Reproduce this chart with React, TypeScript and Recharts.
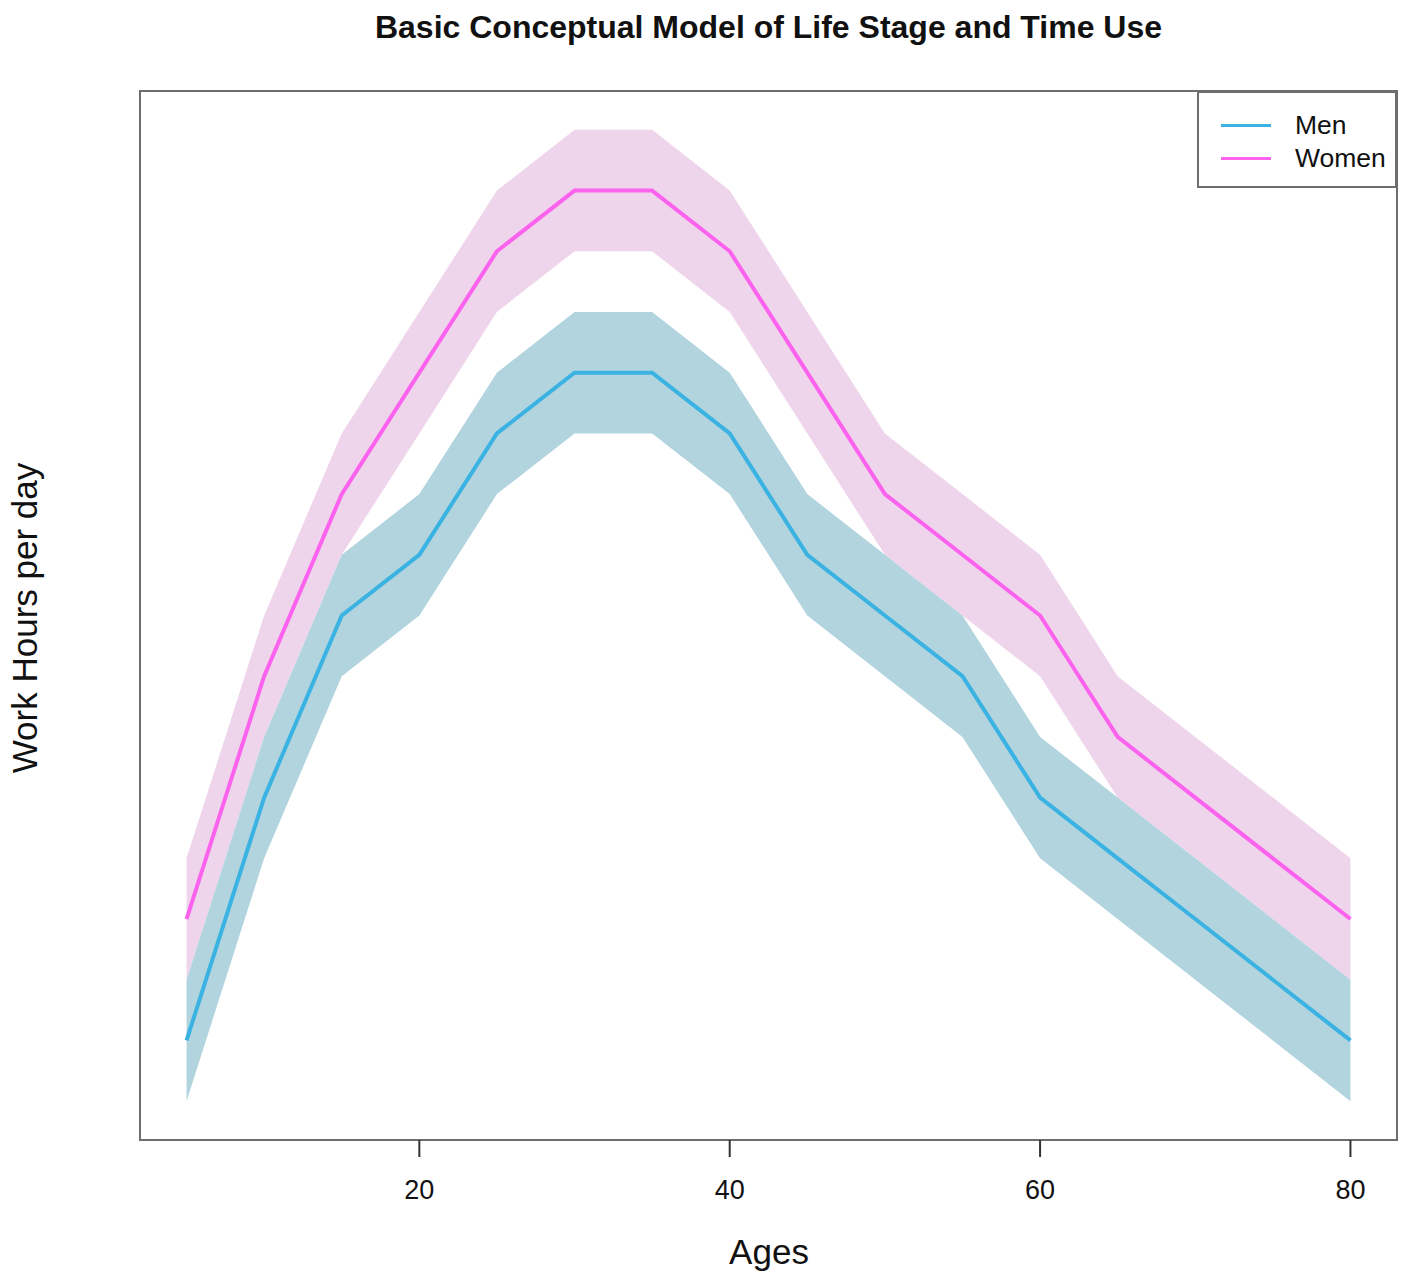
import {
  Area,
  ComposedChart,
  Label,
  Line,
  ReferenceArea,
  XAxis,
  YAxis,
} from 'recharts';

const AGES = [5, 10, 15, 20, 25, 30, 35, 40, 45, 50, 55, 60, 65, 70, 75, 80];
const MEN = [2, 6, 9, 10, 12, 13, 13, 12, 10, 9, 8, 6, 5, 4, 3, 2];
const WOMEN = [4, 8, 11, 13, 15, 16, 16, 15, 13, 11, 10, 9, 7, 6, 5, 4];
const SPREAD = 1;
const X_TICKS = [20, 40, 60, 80];

const MEN_LINE = '#3ab2e2';
const WOMEN_LINE = '#fb63ee';
const MEN_BAND = '#b1d4df';
const WOMEN_BAND = '#efd5eb';
const FRAME = '#6e6e6e';
const INK = '#111';
const FONT = "'Liberation Sans', Arial, sans-serif";

const rows = AGES.map((age, i) => ({
  age,
  men: MEN[i],
  women: WOMEN[i],
  menBand: [MEN[i] - SPREAD, MEN[i] + SPREAD],
  womenBand: [WOMEN[i] - SPREAD, WOMEN[i] + SPREAD],
}));

const X_DOMAIN: [number, number] = [2, 83];
const Y_DOMAIN: [number, number] = [0.36, 17.64];

function LegendBox() {
  const item = (color: string, text: string) => (
    <div style={{ display: 'flex', alignItems: 'center', height: 33 }}>
      <div style={{ width: 50, height: 3, background: color, marginRight: 24 }} />
      <span style={{ fontSize: 26.5, color: INK }}>{text}</span>
    </div>
  );
  return (
    <div
      style={{
        position: 'absolute',
        left: 1197,
        top: 91,
        width: 200,
        height: 97,
        boxSizing: 'border-box',
        border: `2px solid ${FRAME}`,
        background: '#fff',
        padding: '16px 0 0 22px',
        fontFamily: FONT,
      }}
    >
      {item(MEN_LINE, 'Men')}
      {item(WOMEN_LINE, 'Women')}
    </div>
  );
}

export default function App() {
  return (
    <div style={{ position: 'absolute', left: 0, top: 0, width: 1418, height: 1281, background: '#fff' }}>
      <div
        style={{
          position: 'absolute',
          left: 140,
          width: 1257,
          top: 9,
          textAlign: 'center',
          fontFamily: FONT,
          fontWeight: 'bold',
          fontSize: 32,
          color: INK,
        }}
      >
        Basic Conceptual Model of Life Stage and Time Use
      </div>
      <ComposedChart
        width={1418}
        height={1281}
        data={rows}
        margin={{ top: 91, right: 21, left: 0, bottom: 0 }}
        style={{ fontFamily: FONT }}
      >
        <XAxis
          dataKey="age"
          type="number"
          domain={X_DOMAIN}
          ticks={X_TICKS}
          allowDataOverflow
          height={141}
          tickSize={17}
          tickMargin={23}
          stroke="#222"
          tick={{ fontSize: 27, fill: INK }}
          axisLine={{ stroke: FRAME, strokeWidth: 2 }}
          tickLine={{ stroke: '#333', strokeWidth: 2 }}
        >
          <Label
            content={() => (
              <text x={769} y={1264} textAnchor="middle" fontSize={35} fill={INK} fontFamily={FONT}>
                Ages
              </text>
            )}
          />
        </XAxis>
        <YAxis
          type="number"
          domain={Y_DOMAIN}
          allowDataOverflow
          width={140}
          tick={false}
          axisLine={false}
          tickLine={false}
        >
          <Label
            content={() => (
              <text
                x={37}
                y={618}
                transform="rotate(-90 37 618)"
                textAnchor="middle"
                fontSize={35}
                fill={INK}
                fontFamily={FONT}
              >
                Work Hours per day
              </text>
            )}
          />
        </YAxis>
        <Area
          type="linear"
          dataKey="womenBand"
          stroke="none"
          fill={WOMEN_BAND}
          fillOpacity={1}
          isAnimationActive={false}
          activeDot={false}
        />
        <Area
          type="linear"
          dataKey="menBand"
          stroke="none"
          fill={MEN_BAND}
          fillOpacity={1}
          isAnimationActive={false}
          activeDot={false}
        />
        <Line
          type="linear"
          dataKey="women"
          stroke={WOMEN_LINE}
          strokeWidth={4}
          dot={false}
          isAnimationActive={false}
        />
        <Line
          type="linear"
          dataKey="men"
          stroke={MEN_LINE}
          strokeWidth={4}
          dot={false}
          isAnimationActive={false}
        />
        <ReferenceArea
          x1={X_DOMAIN[0]}
          x2={X_DOMAIN[1]}
          y1={Y_DOMAIN[0]}
          y2={Y_DOMAIN[1]}
          fill="none"
          stroke={FRAME}
          strokeWidth={2}
          ifOverflow="visible"
        />
      </ComposedChart>
      <LegendBox />
    </div>
  );
}
